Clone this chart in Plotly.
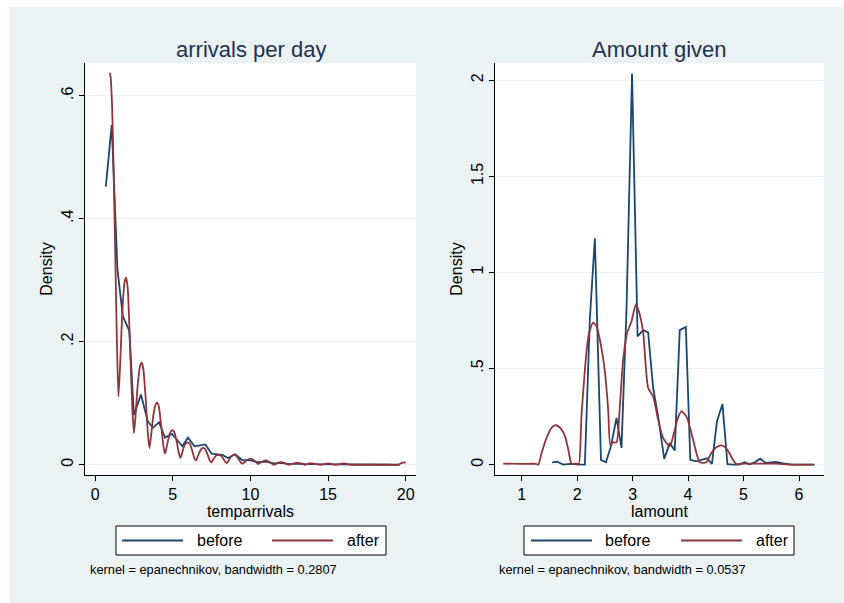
import plotly.graph_objects as go

W, H = 844, 603

# ---------------- data ----------------
arr_before_x = [0.69, 1.07, 1.44, 1.79, 2.20, 2.50, 2.95, 3.40, 3.72, 4.12, 4.50, 4.95, 5.62, 5.98, 6.40,
                7.10, 7.50, 8.20, 8.55, 9.02, 9.45, 10.0, 10.5, 11.0, 11.5, 12.0, 12.5, 13.0, 13.5, 14.0,
                14.5, 15.0, 15.5, 16.0, 16.5, 17.5, 18.5, 19.6]
arr_before_y = [0.452, 0.552, 0.317, 0.241, 0.218, 0.081, 0.114, 0.070, 0.060, 0.069, 0.044, 0.050, 0.030, 0.044, 0.030,
                0.033, 0.018, 0.016, 0.011, 0.017, 0.008, 0.007, 0.004, 0.005, 0.002, 0.003, 0.001, 0.002, 0.001, 0.001,
                0.000, 0.001, 0.000, 0.001, 0.000, 0.000, 0.000, 0.000]

arr_after_x = [0.95, 1.0, 1.1, 1.2, 1.3, 1.4, 1.5, 1.6, 1.75, 1.9, 2.0, 2.1, 2.25, 2.4, 2.5,
               2.6, 2.75, 2.9, 3.0, 3.1, 3.25, 3.4, 3.5, 3.6, 3.75, 3.9, 4.0, 4.1, 4.25, 4.4, 4.5,
               4.6, 4.75, 4.9, 5.0, 5.1, 5.25, 5.4, 5.5, 5.6, 5.75, 5.9, 6.0, 6.1, 6.25, 6.4, 6.5,
               6.6, 6.75, 6.9, 7.0, 7.1, 7.25, 7.4, 7.5, 7.6, 7.75, 7.9, 8.0, 8.1, 8.25, 8.4, 8.5,
               8.6, 8.75, 8.9, 9.0, 9.1, 9.25, 9.4, 9.5, 9.75, 10.0, 10.25, 10.5, 10.75, 11.0, 11.25,
               11.5, 11.75, 12.0, 12.25, 12.5, 12.75, 13.0, 13.25, 13.5, 13.75, 14.0, 14.25, 14.5, 14.75,
               15.0, 15.25, 15.5, 15.75, 16.0, 16.25, 16.5, 17.0, 17.5, 18.0, 18.5, 19.0, 19.5, 19.75, 20.0]
arr_after_y = [0.637, 0.630, 0.578, 0.470, 0.340, 0.205, 0.111, 0.155, 0.248, 0.297, 0.304, 0.287, 0.195, 0.090, 0.051,
               0.078, 0.132, 0.161, 0.166, 0.156, 0.110, 0.050, 0.027, 0.046, 0.080, 0.098, 0.101, 0.095, 0.065, 0.030, 0.018,
               0.028, 0.045, 0.055, 0.056, 0.053, 0.038, 0.018, 0.011, 0.019, 0.031, 0.036, 0.036, 0.034, 0.023, 0.010, 0.007,
               0.013, 0.022, 0.027, 0.027, 0.025, 0.016, 0.006, 0.004, 0.008, 0.014, 0.016, 0.016, 0.015, 0.010, 0.004, 0.003,
               0.007, 0.013, 0.016, 0.016, 0.014, 0.009, 0.003, 0.002, 0.007, 0.010, 0.007, 0.001, 0.005, 0.007, 0.004,
               0.000, 0.003, 0.004, 0.002, 0.000, 0.002, 0.003, 0.002, 0.000, 0.002, 0.002, 0.001, 0.000, 0.001,
               0.002, 0.001, 0.000, 0.001, 0.002, 0.001, 0.000, 0.000, 0.000, 0.000, 0.000, 0.000, 0.000, 0.003, 0.004]

amt_before_x = [1.55, 1.64, 1.75, 1.87, 1.99, 2.14, 2.23, 2.32, 2.43, 2.52, 2.61, 2.71, 2.80, 2.89, 2.99,
                3.09, 3.19, 3.28, 3.37, 3.46, 3.57, 3.67, 3.76, 3.85, 3.96, 4.04, 4.15, 4.25, 4.34, 4.43,
                4.52, 4.62, 4.71, 4.82, 4.92, 5.02, 5.11, 5.20, 5.30, 5.40, 5.50, 5.59, 5.69, 5.79, 5.88,
                5.98, 6.08, 6.18, 6.28]
amt_before_y = [0.012, 0.015, 0.000, 0.004, 0.001, 0.000, 0.760, 1.178, 0.025, 0.012, 0.095, 0.243, 0.087, 0.805, 2.035,
                0.667, 0.700, 0.688, 0.400, 0.251, 0.030, 0.113, 0.073, 0.700, 0.716, 0.025, 0.017, 0.025, 0.033, 0.004,
                0.225, 0.315, 0.002, 0.000, 0.000, 0.012, 0.002, 0.012, 0.031, 0.009, 0.012, 0.014, 0.008, 0.002, 0.000,
                0.000, 0.000, 0.000, 0.000]

amt_after_x = [0.67, 1.0, 1.25, 1.30, 1.36, 1.45, 1.55, 1.62, 1.70, 1.78, 1.84, 1.90, 2.00, 2.03, 2.08, 2.14,
               2.19, 2.23, 2.29, 2.35, 2.41, 2.46, 2.50, 2.56, 2.60, 2.65, 2.71, 2.77, 2.83, 2.90, 2.98,
               3.06, 3.13, 3.19, 3.28, 3.37, 3.46, 3.55, 3.67, 3.76, 3.82, 3.88, 3.97, 4.06, 4.15, 4.21,
               4.33, 4.42, 4.51, 4.61, 4.71, 4.80, 4.87, 5.0, 5.3, 5.6, 5.8, 6.0, 6.25]
amt_after_y = [0.005, 0.004, 0.004, 0.000, 0.060, 0.140, 0.195, 0.205, 0.190, 0.150, 0.080, 0.005, 0.005, 0.000, 0.260, 0.493,
               0.640, 0.700, 0.739, 0.720, 0.650, 0.570, 0.485, 0.286, 0.104, 0.116, 0.116, 0.303, 0.546, 0.684, 0.745,
               0.835, 0.780, 0.690, 0.400, 0.355, 0.234, 0.139, 0.095, 0.182, 0.245, 0.277, 0.251, 0.165, 0.061, 0.012,
               0.012, 0.061, 0.090, 0.100, 0.077, 0.030, 0.003, 0.005, 0.005, 0.005, 0.000, 0.000, 0.000]

series_names = ["before", "after"]
titles = ["arrivals per day", "Amount given"]
x_titles = ["temparrivals", "lamount"]
notes = ["kernel = epanechnikov, bandwidth = 0.2807", "kernel = epanechnikov, bandwidth = 0.0537"]
x1_ticks = [0, 5, 10, 15, 20]
x1_ticklabels = ["0", "5", "10", "15", "20"]
y1_ticks = [0, 0.2, 0.4, 0.6]
y1_ticklabels = ["0", ".2", ".4", ".6"]
x2_ticks = [1, 2, 3, 4, 5, 6]
x2_ticklabels = ["1", "2", "3", "4", "5", "6"]
y2_ticks = [0, 0.5, 1, 1.5, 2]
y2_ticklabels = ["0", ".5", "1", "1.5", "2"]

# ---------------- style ----------------
BG = "#EAF2F3"
NAVY = "#1A476F"
MAROON = "#90353B"
TITLE_C = "#1E3152"
FONT = "Liberation Sans, Arial, sans-serif"

def px(xp):
    return xp / W

def py(yp):
    return 1 - yp / H

fig = go.Figure()
fig.add_trace(go.Scatter(x=arr_before_x, y=arr_before_y, mode="lines", name=series_names[0],
                         line=dict(color=NAVY, width=1.8), xaxis="x", yaxis="y", showlegend=False))
fig.add_trace(go.Scatter(x=arr_after_x, y=arr_after_y, mode="lines", name=series_names[1],
                         line=dict(color=MAROON, width=1.8, shape="spline", smoothing=0.6),
                         xaxis="x", yaxis="y", showlegend=False))
fig.add_trace(go.Scatter(x=amt_before_x, y=amt_before_y, mode="lines", name=series_names[0],
                         line=dict(color=NAVY, width=1.8), xaxis="x2", yaxis="y2", showlegend=False))
fig.add_trace(go.Scatter(x=amt_after_x, y=amt_after_y, mode="lines", name=series_names[1],
                         line=dict(color=MAROON, width=1.8, shape="spline", smoothing=0.6),
                         xaxis="x2", yaxis="y2", showlegend=False))

ax_common = dict(showline=True, linecolor="black", linewidth=1, ticks="outside", ticklen=5,
                 tickcolor="black", tickfont=dict(size=16, color="black", family=FONT),
                 zeroline=False, fixedrange=True)

ydom = [py(475), py(63)]
fig.update_layout(
    width=W, height=H, autosize=False,
    margin=dict(l=0, r=0, t=0, b=0, pad=0),
    paper_bgcolor=BG, plot_bgcolor="white",
    font=dict(family=FONT, color="black", size=16),
    xaxis=dict(domain=[px(85), px(416)], anchor="y", range=[-0.65, 20.66],
               tickvals=x1_ticks, ticktext=x1_ticklabels, showgrid=False,
               title=dict(text=x_titles[0], font=dict(size=16), standoff=0), **ax_common),
    yaxis=dict(domain=ydom, anchor="x", range=[-0.0167, 0.653],
               tickvals=y1_ticks, ticktext=y1_ticklabels, tickangle=-90,
               showgrid=True, gridcolor=BG, gridwidth=1.5,
               title=dict(text="Density", font=dict(size=16), standoff=1), **ax_common),
    xaxis2=dict(domain=[px(495), px(824)], anchor="y2", range=[0.52, 6.45],
                tickvals=x2_ticks, ticktext=x2_ticklabels, showgrid=False,
                title=dict(text=x_titles[1], font=dict(size=16), standoff=0), **ax_common),
    yaxis2=dict(domain=ydom, anchor="x2", range=[-0.054, 2.09],
                tickvals=y2_ticks, ticktext=y2_ticklabels, tickangle=-90,
                showgrid=True, gridcolor=BG, gridwidth=1.5,
                title=dict(text="Density", font=dict(size=16), standoff=1), **ax_common),
)

shapes = [
    # white outer strips (top & left) as in the reference
    dict(type="rect", xref="paper", yref="paper", x0=0, x1=px(9), y0=0, y1=1,
         fillcolor="white", line=dict(width=0), layer="below"),
    dict(type="rect", xref="paper", yref="paper", x0=0, x1=1, y0=py(7), y1=1,
         fillcolor="white", line=dict(width=0), layer="below"),
]
annotations = []

# legends (manual, Stata style) and notes
legend_specs = [
    dict(box=(116, 386), lines=((122, 183), (272, 333)), texts=(195, 345), note_x=88),
    dict(box=(524, 794), lines=((531, 592), (681, 742)), texts=(603, 754), note_x=497),
]
colors = [NAVY, MAROON]
for spec in legend_specs:
    bx0, bx1 = spec["box"]
    shapes.append(dict(type="rect", xref="paper", yref="paper", x0=px(bx0), x1=px(bx1),
                       y0=py(555), y1=py(526), fillcolor="white", line=dict(color="black", width=1)))
    for (lx0, lx1), tx, name, c in zip(spec["lines"], spec["texts"], series_names, colors):
        shapes.append(dict(type="line", xref="paper", yref="paper", x0=px(lx0), x1=px(lx1),
                           y0=py(540.5), y1=py(540.5), line=dict(color=c, width=1.8)))
        annotations.append(dict(text=name, xref="paper", yref="paper", x=px(tx), y=py(540.5),
                                xanchor="left", yanchor="middle", showarrow=False,
                                font=dict(size=16, color="black")))

for spec, note in zip(legend_specs, notes):
    annotations.append(dict(text=note, xref="paper", yref="paper", x=px(spec["note_x"]), y=py(569),
                            xanchor="left", yanchor="middle", showarrow=False,
                            font=dict(size=12.8, color="black")))

for cx, t in zip([250.5, 659.5], titles):
    annotations.append(dict(text=t, xref="paper", yref="paper", x=px(cx), y=py(50),
                            xanchor="center", yanchor="middle", showarrow=False,
                            font=dict(size=22, color=TITLE_C)))

fig.update_layout(shapes=shapes, annotations=annotations)
fig.write_html("out.html",
               config={"displayModeBar": False, "staticPlot": True},
               post_script="document.body.style.margin='0';"
                           "document.documentElement.style.overflow='hidden';"
                           "document.body.style.overflow='hidden';")
